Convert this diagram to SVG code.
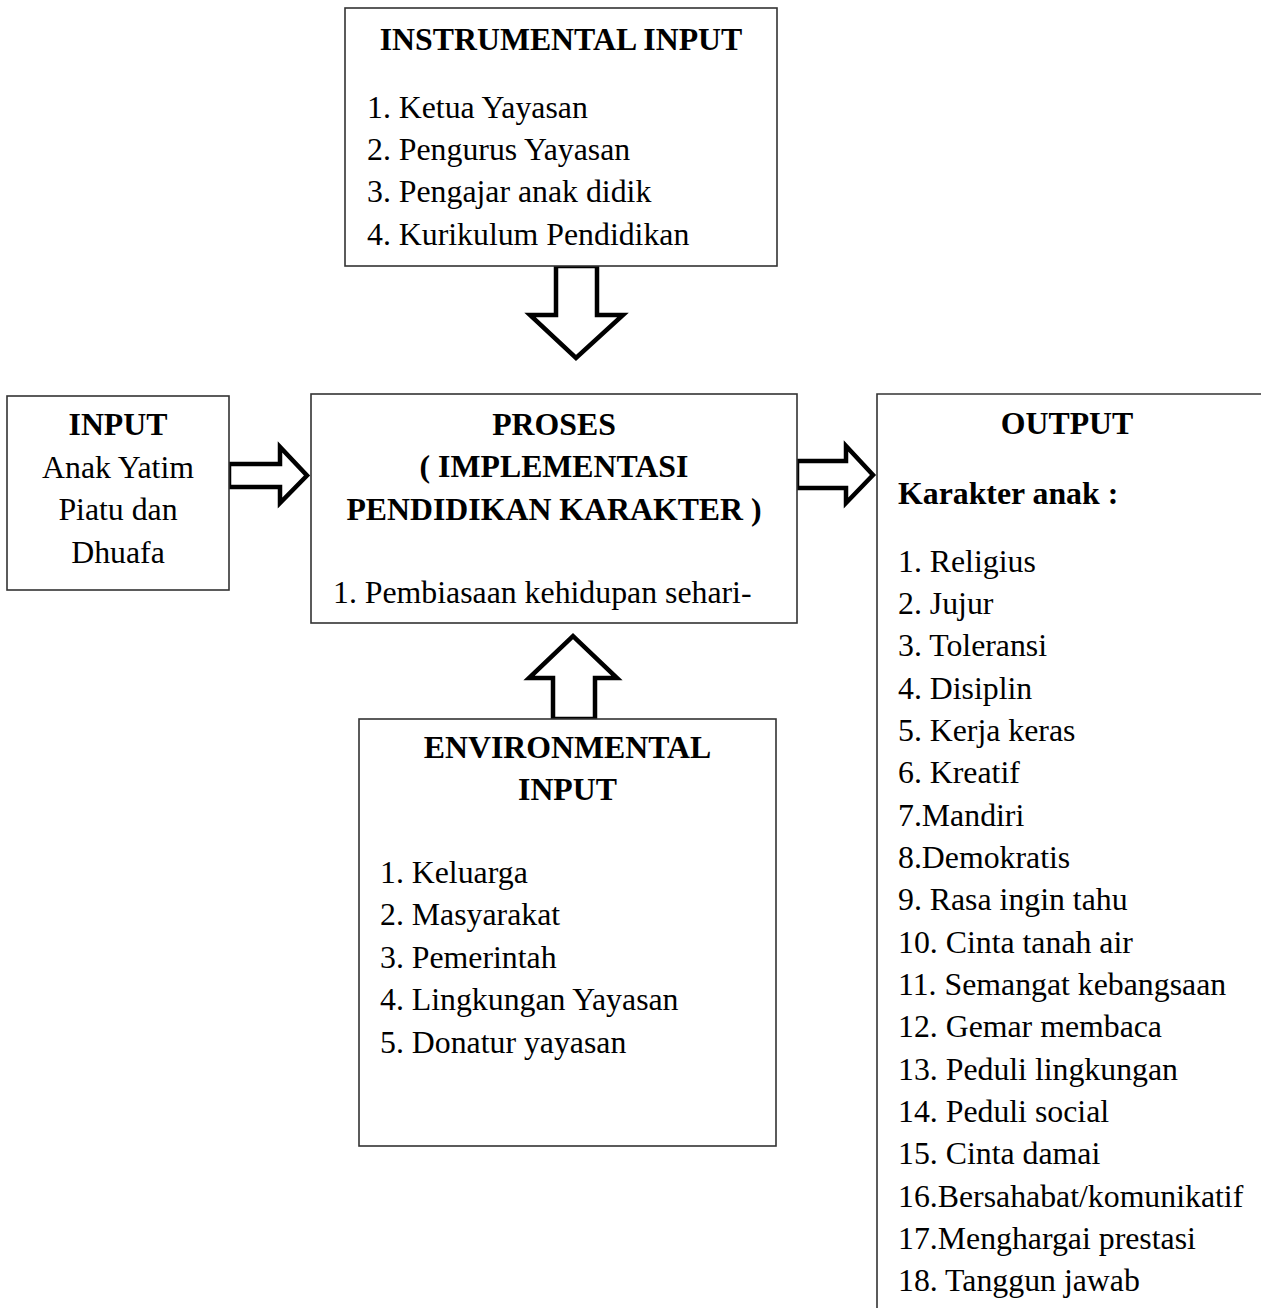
<svg xmlns="http://www.w3.org/2000/svg" width="1261" height="1308" viewBox="0 0 1261 1308">
<style>
.box{fill:#fff;stroke:#333;stroke-width:1.6}
.arr{fill:#fff;stroke:#000;stroke-width:4.5;stroke-linejoin:miter}
text{font-family:"Liberation Serif","Times New Roman",serif;font-size:31.8px;fill:#000}
.b{font-weight:bold}
.c{text-anchor:middle}
</style>
<rect width="1261" height="1308" fill="#fff"/>
<g id="connectors">
<polygon class="arr" points="229,464 280,464 280,447 307,475.5 280,503 280,487 229,487"/>
<polygon class="arr" points="797,461 846,461 846,446 873,475 846,503 846,488 797,488"/>
<polygon class="arr" points="556,266 597,266 597,315 623,315 576,358 530,315 556,315"/>
<polygon class="arr" points="553,719 553,678 529,678 573,636 617,678 595,678 595,719"/>
</g>
<g id="instrumental">
<rect class="box" x="345" y="8" width="432" height="258"/>
<text class="b c" x="561" y="50">INSTRUMENTAL INPUT</text>
<text x="367" y="117.5">1. Ketua Yayasan</text>
<text x="367" y="160">2. Pengurus Yayasan</text>
<text x="367" y="202.3">3. Pengajar anak didik</text>
<text x="367" y="244.7">4. Kurikulum Pendidikan</text>
</g>
<g id="input">
<rect class="box" x="7" y="396" width="222" height="194"/>
<text class="b c" x="118" y="435">INPUT</text>
<text class="c" x="118" y="477.5">Anak Yatim</text>
<text class="c" x="118" y="520">Piatu dan</text>
<text class="c" x="118" y="562.5">Dhuafa</text>
</g>
<g id="proses">
<rect class="box" x="311" y="394" width="486" height="229"/>
<text class="b c" x="554" y="435">PROSES</text>
<text class="b c" x="554" y="477.4">( IMPLEMENTASI</text>
<text class="b c" x="554" y="519.8">PENDIDIKAN KARAKTER )</text>
<text x="333" y="602.6">1. Pembiasaan kehidupan sehari-</text>
</g>
<g id="environmental">
<rect class="box" x="359" y="719" width="417" height="427"/>
<text class="b c" x="567.5" y="758">ENVIRONMENTAL</text>
<text class="b c" x="567.5" y="800.4">INPUT</text>
<text x="380" y="883">1. Keluarga</text>
<text x="380" y="925.4">2. Masyarakat</text>
<text x="380" y="967.8">3. Pemerintah</text>
<text x="380" y="1010.2">4. Lingkungan Yayasan</text>
<text x="380" y="1052.6">5. Donatur yayasan</text>
</g>
<g id="output">
<path d="M1261 394 H877 V1308" fill="none" stroke="#333" stroke-width="1.6"/>
<text class="b c" x="1067" y="434">OUTPUT</text>
<text class="b" x="898" y="503.5">Karakter anak :</text>
<text x="898" y="571.6">1. Religius</text>
<text x="898" y="614">2. Jujur</text>
<text x="898" y="656.3">3. Toleransi</text>
<text x="898" y="698.6">4. Disiplin</text>
<text x="898" y="741">5. Kerja keras</text>
<text x="898" y="783.3">6. Kreatif</text>
<text x="898" y="825.6">7.Mandiri</text>
<text x="898" y="868">8.Demokratis</text>
<text x="898" y="910.3">9. Rasa ingin tahu</text>
<text x="898" y="952.6">10. Cinta tanah air</text>
<text x="898" y="995">11. Semangat kebangsaan</text>
<text x="898" y="1037.3">12. Gemar membaca</text>
<text x="898" y="1079.6">13. Peduli lingkungan</text>
<text x="898" y="1122">14. Peduli social</text>
<text x="898" y="1164.3">15. Cinta damai</text>
<text x="898" y="1206.6">16.Bersahabat/komunikatif</text>
<text x="898" y="1249">17.Menghargai prestasi</text>
<text x="898" y="1291.3">18. Tanggun jawab</text>
</g>
</svg>
